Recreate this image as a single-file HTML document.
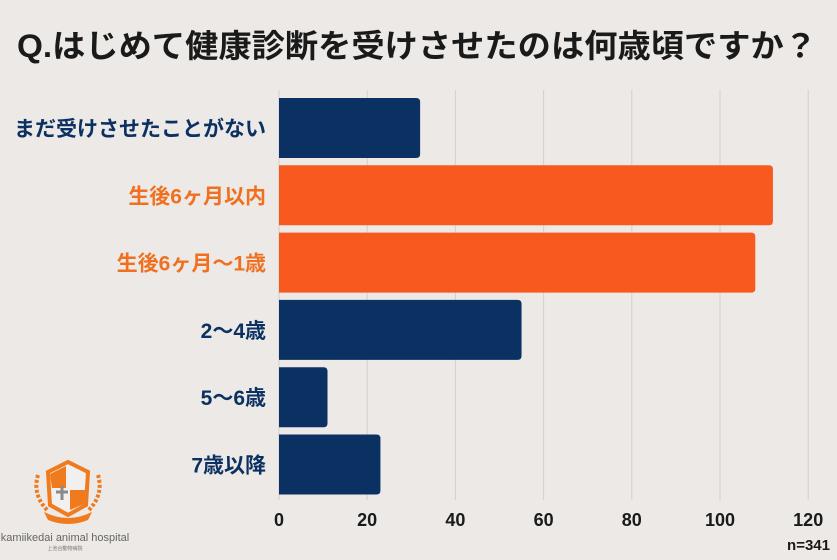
<!DOCTYPE html>
<html><head><meta charset="utf-8">
<style>
body{margin:0;width:837px;height:555px;background:#ece9e6;overflow:hidden;font-family:"Liberation Sans","Noto Sans CJK JP",sans-serif;}
svg text{font-family:"Liberation Sans","Noto Sans CJK JP",sans-serif;}
</style></head>
<body>
<svg id="chart" width="837" height="555" xmlns="http://www.w3.org/2000/svg">
<rect width="837" height="555" fill="#ece9e6"/>
<text x="417" y="57" text-anchor="middle" font-size="32" font-weight="bold" fill="#1a1a1a" textLength="800" lengthAdjust="spacingAndGlyphs">Q.はじめて健康診断を受けさせたのは何歳頃ですか？</text>
<g id="grid"></g><g id="bars"></g><g id="labels"></g><g id="ticks"></g>
<text x="830" y="550" text-anchor="end" font-size="15" font-weight="bold" fill="#1a1a1a">n=341</text>
<g>
<path d="M48 472 L68 462 L88 472 L86 505 L68 515 L50 505 Z" fill="#f2f0ee" stroke="#f07a1e" stroke-width="4"/>
<path d="M50 474 L66 466 L66 488 L52 488 Z" fill="#f07a1e"/>
<path d="M70 490 L86 490 L84 504 L70 510 Z" fill="#f07a1e"/>
<path d="M56 492 h12 M62 486 v14" stroke="#8a8a8a" stroke-width="3"/>
<path d="M38 475 q-6 20 10 36 M98 475 q6 20 -10 36" stroke="#f07a1e" stroke-width="4" fill="none" stroke-dasharray="3 2"/>
<path d="M44 512 q24 12 48 0 l-4 8 q-20 8 -40 0 Z" fill="#f07a1e"/>
<text x="65" y="541" text-anchor="middle" font-size="11" fill="#666">kamiikedai animal hospital</text>
<text x="65" y="550" text-anchor="middle" font-size="5" fill="#777">上池台動物病院</text>
</g>
</svg>
<script>
const categories=["まだ受けさせたことがない","生後6ヶ月以内","生後6ヶ月〜1歳","2〜4歳","5〜6歳","7歳以降"];
const values=[32,112,108,55,11,23];
const highlight=[false,true,true,false,false,false];
const tickValues=[0,20,40,60,80,100,120];
const NS="http://www.w3.org/2000/svg";
const x0=279,pxPer=4.41;
const xs=v=>x0+v*pxPer;
const ys=i=>98+i*67.3;
const bh=60;
function mk(tag,attrs,parent){const e=document.createElementNS(NS,tag);for(const k in attrs)e.setAttribute(k,attrs[k]);document.getElementById(parent).appendChild(e);return e;}
tickValues.forEach(t=>{
  const l=mk('line',{x1:xs(t),x2:xs(t),y1:90,y2:500,stroke:'#d3d0cd','stroke-width':1},'grid');
  
  
  const tx=mk('text',{x:xs(t),y:526,'text-anchor':'middle','font-size':18,'font-weight':'bold',fill:'#1a1a1a'},'ticks');
  tx.textContent=t;
  
  
});
categories.forEach((c,i)=>{
  const col=highlight[i]?'#f7591f':'#0b3162';
  const w=xs(values[i])-x0, y=ys(i);
  const p=mk('path',{d:`M${x0} ${y} h${w-4} q4 0 4 4 v${bh-8} q0 4 -4 4 h${-(w-4)} Z`,fill:col},'bars');
  
  
  const t=mk('text',{x:266,y:y+bh/2+8,'text-anchor':'end','font-size':21,'font-weight':'bold',fill:highlight[i]?'#f07020':'#0b3162'},'labels');
  t.textContent=c;
  
  
});
</script>
</body></html>
